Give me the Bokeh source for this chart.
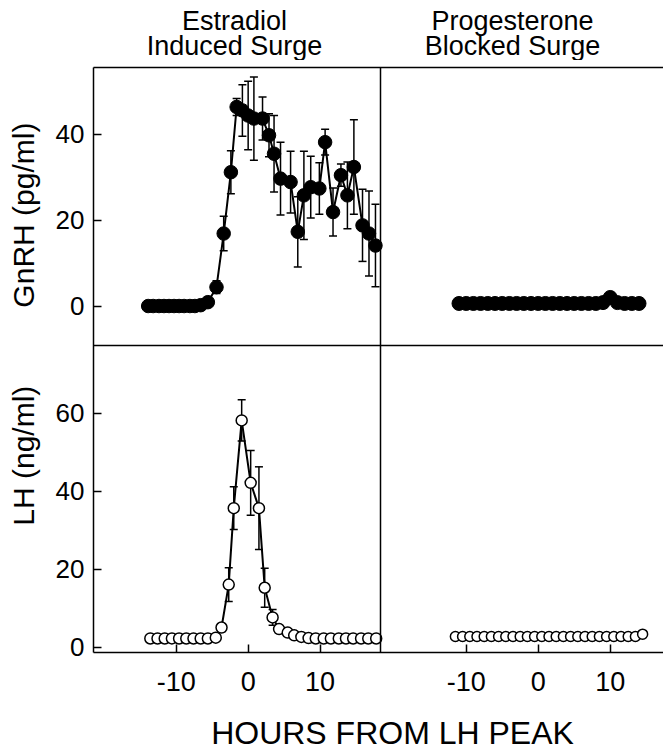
import math
from bokeh.plotting import figure
from bokeh.layouts import column, row
from bokeh.models import (Range1d, FixedTicker, LinearAxis, Span, Label,
                          Whisker, TeeHead, ColumnDataSource)
from bokeh.embed import file_html
from bokeh.resources import INLINE

# ---------------- data ----------------
# Estradiol induced surge: GnRH (pg/ml), mean and SEM
gnrh_e_hours = [-13.9, -13.2, -12.4, -11.7, -11.0, -10.3, -9.6, -8.9, -8.1, -7.4,
                -6.6, -5.6, -4.4, -3.4, -2.4, -1.6, -0.8, 0.0, 0.8, 2.0, 2.9, 3.6,
                4.5, 5.9, 6.9, 7.75, 8.7, 9.9, 10.7, 11.8, 12.9, 13.8, 14.7, 15.9,
                16.8, 17.7]
gnrh_e_mean = [0, 0, 0, 0, 0, 0, 0, 0, 0, 0,
               0.2, 0.9, 4.4, 16.9, 31.2, 46.4, 45.6, 44.4, 43.7, 43.7, 39.8, 35.5,
               29.7, 28.9, 17.3, 25.8, 27.7, 27.4, 38.2, 21.9, 30.5, 25.8, 32.4, 18.8,
               16.9, 14.1]
gnrh_e_sem = [0, 0, 0, 0, 0, 0, 0, 0, 0, 0,
              0, 0.5, 1.5, 4.0, 5.0, 2.0, 6.0, 8.0, 9.7, 5.0, 5.0, 8.9,
              8.5, 7.2, 8.2, 10.3, 7.2, 6.0, 3.0, 5.6, 2.6, 7.8, 11.0, 8.4,
              9.9, 9.6]

# Estradiol induced surge: LH (ng/ml), mean and SEM
lh_e_hours = [-13.6, -12.6, -11.6, -10.6, -9.6, -8.6, -7.6, -6.6, -5.6, -4.5,
              -3.7, -2.7, -2.0, -0.9, 0.35, 1.5, 2.3, 3.4, 4.3, 5.5, 6.4, 7.4,
              8.4, 9.4, 10.5, 11.5, 12.6, 13.6, 14.6, 15.7, 16.7, 17.8]
lh_e_mean = [2.3, 2.3, 2.3, 2.3, 2.3, 2.3, 2.3, 2.3, 2.3, 2.5,
             5.1, 16.1, 35.7, 58.2, 42.2, 35.7, 15.3, 7.7, 4.7, 3.8, 3.1, 2.7,
             2.4, 2.3, 2.3, 2.3, 2.3, 2.3, 2.3, 2.3, 2.3, 2.3]
lh_e_sem = [0.3, 0.3, 0.3, 0.3, 0.3, 0.3, 0.3, 0.3, 0.3, 0.4,
            1.0, 4.3, 5.5, 5.3, 8.3, 10.6, 5.0, 2.0, 1.0, 0.6, 0.5, 0.4,
            0.3, 0.3, 0.3, 0.3, 0.3, 0.3, 0.3, 0.3, 0.3, 0.3]

# Progesterone blocked surge: GnRH (pg/ml)
gnrh_p_hours = [-11, -10, -9, -8, -7, -6, -5, -4, -3, -2, -1, 0, 1, 2, 3, 4, 5,
                6, 7, 8, 9, 10, 11, 12, 13, 14]
gnrh_p_mean = [0.6, 0.6, 0.6, 0.6, 0.6, 0.6, 0.6, 0.6, 0.6, 0.6, 0.6, 0.6, 0.6,
               0.6, 0.6, 0.6, 0.6, 0.6, 0.6, 0.6, 0.8, 2.0, 0.8, 0.6, 0.6, 0.6]

# Progesterone blocked surge: LH (ng/ml)
lh_p_hours = [-11.5, -10.5, -9.5, -8.5, -7.5, -6.5, -5.5, -4.5, -3.5, -2.5, -1.5,
              -0.5, 0.5, 1.5, 2.5, 3.5, 4.5, 5.5, 6.5, 7.5, 8.5, 9.5, 10.5, 11.5,
              12.5, 13.5, 14.5]
lh_p_mean = [2.8, 2.8, 2.8, 2.8, 2.8, 2.8, 2.8, 2.8, 2.8, 2.8, 2.8, 2.8, 2.8, 2.8,
             2.8, 2.8, 2.8, 2.8, 2.8, 2.8, 2.8, 2.8, 2.8, 2.8, 2.8, 2.8, 3.4]

x_ticks = [-10, 0, 10]
lh_ticks = [0, 20, 40, 60]
gnrh_ticks = [0, 20, 40]

col_titles = [("Estradiol", "Induced Surge"), ("Progesterone", "Blocked Surge")]
y_titles = ["GnRH (pg/ml)", "LH (ng/ml)"]
x_title = "HOURS FROM LH PEAK"

# ---------------- geometry ----------------
LEFT_X = (-21.5, 18.4)      # hours shown in the left column
RIGHT_X = (-21.9, 17.4)     # hours shown in the right column
LH_Y = (-1.3, 77.4)         # LH row
GNRH_Y = (-9.2, 55.6)       # GnRH row

PAGE_W = 663
TOP_H = 60                  # strip with the column titles
STRIP_W = 45                # strip with the y titles
MAIN_BL, MAIN_BT, MAIN_BB = 48, 7, 50
LEFT_W, RIGHT_W = 287, 283
GNRH_H, LH_H = 278, 307
MAIN_W = MAIN_BL + LEFT_W + RIGHT_W
MAIN_H = MAIN_BT + GNRH_H + LH_H + MAIN_BB
BOT_H = 48

xs_l = (LEFT_X[1] - LEFT_X[0]) / LEFT_W
xs_r = (RIGHT_X[1] - RIGHT_X[0]) / RIGHT_W
ys_lh = (LH_Y[1] - LH_Y[0]) / LH_H
ys_g = (GNRH_Y[1] - GNRH_Y[0]) / GNRH_H

x_main = Range1d(LEFT_X[0], LEFT_X[1] + RIGHT_W * xs_l)
x_right = Range1d(RIGHT_X[0] - LEFT_W * xs_r, RIGHT_X[1])
y_main = Range1d(LH_Y[0], LH_Y[1] + GNRH_H * ys_lh)
y_gnrh = Range1d(GNRH_Y[0] - LH_H * ys_g, GNRH_Y[1])


def right_to_main(t):
    return LEFT_X[1] + (t - RIGHT_X[0]) / xs_r * xs_l


def gnrh_to_main(g):
    return LH_Y[1] + (g - GNRH_Y[0]) / ys_g * ys_lh


FONT = "Liberation Sans"


def text_strip(w, h):
    """A figure without axes whose frame is the whole canvas, in pixels."""
    s = figure(width=w, height=h, x_range=Range1d(0, w), y_range=Range1d(h, 0),
               output_backend="svg", toolbar_location=None,
               x_axis_type=None, y_axis_type=None, min_border=0)
    s.xgrid.visible = False
    s.ygrid.visible = False
    s.outline_line_color = None
    s.background_fill_color = "white"
    s.border_fill_color = "white"
    return s


def add_text(fig, x, y, text, size, angle=0.0, baseline="alphabetic"):
    fig.add_layout(Label(x=x, y=y, text=text, angle=angle,
                         text_align="center", text_baseline=baseline,
                         text_font=FONT, text_font_size=size, text_color="black"))


# ---------------- main figure ----------------
p = figure(width=MAIN_W, height=MAIN_H, x_range=x_main, y_range=y_main,
           output_backend="svg", toolbar_location=None,
           min_border_left=MAIN_BL, min_border_right=0,
           min_border_top=MAIN_BT, min_border_bottom=MAIN_BB)
p.extra_x_ranges = {"right": x_right}
p.extra_y_ranges = {"gnrh": y_gnrh}
p.xgrid.visible = False
p.ygrid.visible = False
p.outline_line_color = None
p.background_fill_color = "white"
p.border_fill_color = "white"

xt = [float(t) for t in x_ticks] + [right_to_main(t) for t in x_ticks]
xlab = {}
for t in x_ticks:
    xlab[float(t)] = str(t)
    xlab[right_to_main(t)] = str(t)
xa = p.xaxis[0]
xa.ticker = FixedTicker(ticks=xt)
xa.major_label_overrides = xlab
xa.major_tick_in = 8
xa.major_tick_out = 0
xa.minor_tick_line_color = None
xa.axis_line_width = 1.5
xa.major_tick_line_width = 1.5
xa.major_label_text_font = FONT
xa.major_label_text_font_size = "27px"
xa.major_label_text_color = "black"
xa.major_label_standoff = 19

yt = [float(t) for t in lh_ticks] + [gnrh_to_main(g) for g in gnrh_ticks]
ylab = {}
for t in lh_ticks:
    ylab[float(t)] = str(t)
for g in gnrh_ticks:
    ylab[gnrh_to_main(g)] = str(g)
ya = p.yaxis[0]
ya.ticker = FixedTicker(ticks=yt)
ya.major_label_overrides = ylab
ya.major_tick_in = 8
ya.major_tick_out = 0
ya.minor_tick_line_color = None
ya.axis_line_width = 1.5
ya.major_tick_line_width = 1.5
ya.major_label_text_font = FONT
ya.major_label_text_font_size = "26px"
ya.major_label_text_color = "black"
ya.major_label_standoff = 9

top = LinearAxis(ticker=FixedTicker(ticks=[]), major_tick_line_color=None,
                 minor_tick_line_color=None, major_label_text_font_size="0px",
                 major_tick_in=0, major_tick_out=0, major_label_standoff=0,
                 axis_line_width=1.5)
p.add_layout(top, "above")

p.add_layout(Span(location=LEFT_X[1], dimension="height", line_color="black", line_width=1.5))
p.add_layout(Span(location=LH_Y[1], dimension="width", line_color="black", line_width=1.5))

# ---- Estradiol GnRH ----
p.line(gnrh_e_hours, gnrh_e_mean, y_range_name="gnrh", line_color="black", line_width=2)
src = ColumnDataSource(dict(x=gnrh_e_hours,
                            upper=[m + s for m, s in zip(gnrh_e_mean, gnrh_e_sem)],
                            lower=[m - s for m, s in zip(gnrh_e_mean, gnrh_e_sem)]))
p.add_layout(Whisker(source=src, base="x", upper="upper", lower="lower",
                     dimension="height", y_range_name="gnrh", line_width=1.5,
                     line_color="black", level="underlay",
                     upper_head=TeeHead(size=8, line_width=1.5),
                     lower_head=TeeHead(size=8, line_width=1.5)))
p.scatter(gnrh_e_hours, gnrh_e_mean, y_range_name="gnrh", marker="circle", size=13.5,
          fill_color="black", line_color="black")

# ---- Estradiol LH ----
p.line(lh_e_hours, lh_e_mean, line_color="black", line_width=2)
src2 = ColumnDataSource(dict(x=lh_e_hours,
                             upper=[m + s for m, s in zip(lh_e_mean, lh_e_sem)],
                             lower=[m - s for m, s in zip(lh_e_mean, lh_e_sem)]))
p.add_layout(Whisker(source=src2, base="x", upper="upper", lower="lower",
                     dimension="height", line_width=1.5, line_color="black",
                     level="underlay",
                     upper_head=TeeHead(size=8, line_width=1.5),
                     lower_head=TeeHead(size=8, line_width=1.5)))
p.scatter(lh_e_hours, lh_e_mean, marker="circle", size=11, fill_color="white",
          line_color="black", line_width=1.5)

# ---- Progesterone GnRH ----
p.line(gnrh_p_hours, gnrh_p_mean, x_range_name="right", y_range_name="gnrh",
       line_color="black", line_width=2)
p.scatter(gnrh_p_hours, gnrh_p_mean, x_range_name="right", y_range_name="gnrh",
          marker="circle", size=14, fill_color="black", line_color="black")

# ---- Progesterone LH ----
p.line(lh_p_hours, lh_p_mean, x_range_name="right", line_color="black", line_width=1.5)
p.scatter(lh_p_hours, lh_p_mean, x_range_name="right", marker="circle", size=10,
          fill_color="white", line_color="black", line_width=1.5)

# ---------------- text strips ----------------
top_strip = text_strip(PAGE_W, TOP_H)
for cx, (l1, l2) in zip([234, 512], col_titles):
    add_text(top_strip, cx, 20, l1, "27px")
    add_text(top_strip, cx, 45, l2, "27px")

left_strip = text_strip(STRIP_W, MAIN_H)
add_text(left_strip, 23, 222 - TOP_H, y_titles[0], "30px", angle=math.pi / 2,
         baseline="middle")
add_text(left_strip, 23, 486 - TOP_H, y_titles[1], "30px", angle=math.pi / 2,
         baseline="middle")

bot_strip = text_strip(PAGE_W, BOT_H)
add_text(bot_strip, 392, 732 - TOP_H - MAIN_H, x_title, "32px")

layout = column(top_strip, row(left_strip, p), bot_strip)

open("out.html", "w").write(file_html(layout, INLINE))
